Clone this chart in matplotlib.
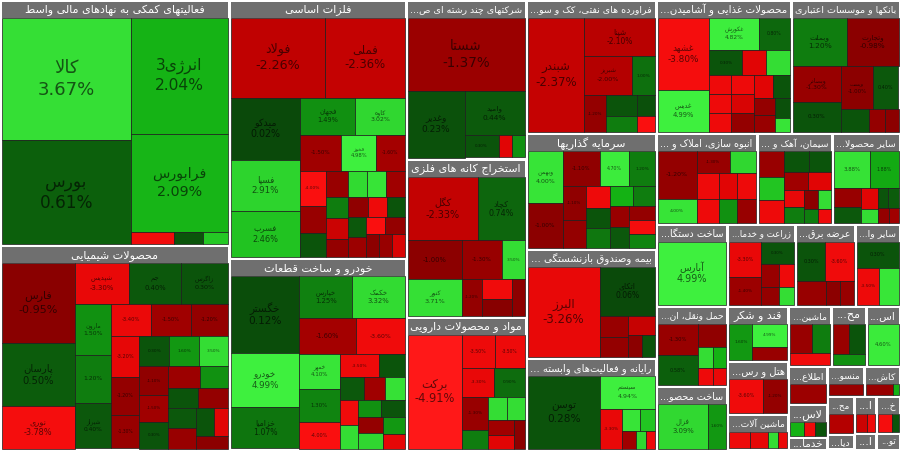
import matplotlib
matplotlib.use("Agg")
import matplotlib.pyplot as plt
from matplotlib.patches import Rectangle
from matplotlib import font_manager
from matplotlib.ft2font import FT2Font
import math

# ---------------- DATA ----------------
group_titles = [
    "فعالیتهای کمکی به نهادهای مالی واسط",
    "محصولات شیمیایی",
    "فلزات اساسی",
    "خودرو و ساخت قطعات",
    "...شرکتهای چند رشته ای ص",
    "استخراج کانه های فلزی",
    "مواد و محصولات دارویی",
    "...فراورده های نفتی، کک و سو",
    "سرمایه گذاریها",
    "... بیمه وصندوق بازنشستگی",
    "... رایانه و فعالیت\u200cهای وابسته",
    "...محصولات غذایی و آشامیدن",
    "بانکها و موسسات اعتباری",
    "... انبوه سازی، املاک و",
    "... سیمان، آهک و",
    "...سایر محصولا",
    "...ساخت دستگا",
    "...حمل ونقل، ان",
    "...ساخت محصو",
    "...زراعت و خدما",
    "...عرضه برق",
    "...سایر وا",
    "قند و شکر",
    "...هتل و رس",
    "...ماشین آلات",
    "...ماشین",
    "...مح",
    "...اس",
    "...اطلاع",
    "...لاس",
    "...خدما",
    "...منسو",
    "...کاش",
    "...مح",
    "...دیا",
    "...ا",
    "...خ",
    "...ا",
    "...تو",
]
group_sizes = [56342, 46933, 45625, 33800, 19080, 18960, 15960, 17355, 15015,
               14235, 11895, 18022, 14551, 9140, 6788, 6154, 5863, 5756, 4540,
               5535, 4920, 3690, 3386, 3203, 2196, 2571, 2118, 2057, 1463, 1251,
               500, 1092, 1062, 1017, 425, 833, 851, 380, 400]
# number of groups in each successive strip of the treemap, and its direction
group_strips = [2, 2, 3, 4, 2, 3, 3, 3, 3, 3, 3, 2, 2, 2, 1, 1]
group_strip_dirs = ['v', 'v', 'v', 'v', 'h', 'h', 'v', 'h', 'v', 'h', 'v', 'h',
                    'v', 'h', 'v', 'v']

stock_counts = [7, 30, 30, 23, 6, 10, 12, 9, 17, 7, 8, 19, 9, 10, 13, 10,
                1, 7, 2, 7, 5, 3, 3, 2, 4, 3, 3, 1, 1, 3, 1, 1, 2, 1, 1, 2, 2, 1, 1]

stock_names = (
    ['کالا', 'انرژی3', 'بورس', 'فرابورس', '', '', ''] +
    ['فارس', 'پارسان', 'نوری', 'شپدیس', 'جم', 'زاگرس', 'مارون', 'شیراز'] + [''] * 22 +
    ['فولاد', 'فملی', 'میدکو', 'فسرب', 'فجهان', 'کاوه', 'فسپا', 'فخوز'] + [''] * 22 +
    ['خگستر', 'خودرو', 'خپارس', 'خزامیا', 'خکمک', '', '', 'خمهر'] + [''] * 15 +
    ['شستا', 'وغدیر', 'وامید', '', '', ''] +
    ['کگل', 'کچاد', '', '', '', 'کنور', '', '', '', ''] +
    ['برکت'] + [''] * 11 +
    ['شبندر', 'شپنا', 'شبریز'] + [''] * 6 +
    ['وبهمن'] + [''] * 16 +
    ['البرز', 'اتکای', '', '', '', '', ''] +
    ['توسن', 'سیستم', '', '', '', '', '', ''] +
    ['غشهد', 'غدیس', 'غکورش'] + [''] * 16 +
    ['وبملت', 'وتجارت', 'وبصادر', '', 'وپست', '', '', '', ''] +
    [''] * 10 +
    [''] * 13 +
    [''] * 10 +
    ['آبارس'] +
    [''] * 7 +
    ['فزال', ''] +
    [''] * 7 +
    [''] * 5 +
    [''] * 3 +
    [''] * 3 +
    [''] * 2 +
    [''] * 4 +
    [''] * 3 +
    [''] * 3 +
    [''] +
    [''] +
    [''] * 3 +
    [''] + [''] + [''] * 2 + [''] + [''] + [''] * 2 + [''] * 2 + [''] + ['']
)

stock_sizes = [
    15500, 11070, 13100, 9256, 506, 350, 290,
    5830, 4660, 3100, 2170, 2120, 1900, 1800, 1630, 1200, 1250, 1150, 1700, 870, 960,
    900, 900, 1300, 1080, 750, 560, 560, 760, 810, 600, 700, 600, 600, 500, 400, 400,
    7450, 6320, 4250, 3130, 2030, 1800, 3550, 1260, 1460, 1000, 890, 600, 500, 500, 600,
    450, 500, 450, 400, 350, 350, 400, 380, 350, 330, 320, 300, 300, 280, 700,
    5265, 3640, 2275, 2830, 2210, 2050, 1750, 1450, 1110, 1350, 900, 600, 550, 450, 420,
    380, 400, 450, 500, 400, 400, 350, 320,
    8470, 3750, 2610, 760, 300, 280,
    4350, 2900, 2050, 1480, 840, 1910, 700, 600, 500, 430,
    6330, 1000, 960, 900, 870, 1100, 500, 450, 400, 400, 350, 310,
    6270, 2600, 1820, 860, 620, 470, 760, 360, 270,
    1840, 1550, 1300, 1050, 880, 640, 530, 480, 790, 500, 450, 420, 400, 380, 370, 360, 350,
    6370, 2650, 570, 500, 540, 310, 270,
    5180, 1800, 840, 390, 250, 320, 160, 150,
    3530, 2060, 1550, 960, 780, 400, 400, 400, 400, 400, 400, 550, 550, 340, 290, 200, 360, 340, 400,
    2660, 2520, 1750, 1480, 1360, 630, 1120, 360, 315,
    1700, 680, 860, 530, 430, 430, 530, 400, 400, 480,
    620, 500, 300, 530, 440, 240, 220, 530, 330, 180, 165, 370, 390,
    1250, 990, 470, 340, 400, 190, 210, 190, 120, 150,
    4340,
    1200, 620, 1130, 280, 260, 240, 220,
    2210, 780,
    1050, 700, 810, 310, 370, 250, 300,
    1020, 640, 990, 300, 300,
    980, 630, 735,
    800, 820, 430,
    1090, 760,
    340, 300, 170, 150,
    600, 480, 440,
    430, 300, 435,
    1320,
    650,
    160, 190, 150,
    100,
    300,
    300, 60,
    300,
    100,
    200, 150,
    200, 100,
    100,
    100,
]

stock_changes = [
    3.67, 2.04, 0.61, 2.09, -3.6, 0.3, 2.6,
    -0.95, 0.50, -3.78, -3.30, 0.40, 0.30, 1.50, 0.40, -1.2, -1.5, -3.2, 1.2, 3.5, -1.3,
    0.3, 1.6, -3.4, -1.2, 0.3, 0.4, -1.3, -1.5, -1.1, 1.5, -1.4, 0.3, -1.2, 0.3, -3.0, -1.0,
    -2.26, -2.36, 0.02, 2.46, 1.49, 3.02, 2.91, 4.98, -1.5, -1.6, -4.0, 0.3, 3.2, 4.0, -1.3,
    1.2, -1.5, -2.5, -1.2, 0.3, 0.4, -1.1, -3.5, -1.4, -4.0, -1.2, -1.0, -1.3, -2.8, -1.3,
    0.12, 4.99, 1.25, 1.07, 3.32, -1.6, -3.6, 4.10, -4.0, 1.3, -3.5, 0.3, 0.4, 3.8, 3.5,
    3.0, 1.5, -3.6, -1.5, 0.3, -1.2, 1.6, -3.2,
    -1.37, 0.23, 0.44, 0.3, -3.0, 1.5,
    -2.33, 0.74, -1.0, -1.3, 3.5, 3.71, -1.2, -3.6, -0.9, -1.0,
    -4.91, -3.5, -3.3, 0.9, -1.3, -3.5, 1.2, 3.5, 3.5, -1.5, -3.0, -1.0,
    -2.37, -2.10, -2.00, 1.0, 0.3, 1.2, -1.2, 0.2, -4.0,
    4.0, -1.0, -1.1, 4.7, 1.2, -1.2, -3.5, 1.1, -1.1, 0.3, 2.0, 1.2, -1.3, 0.4, -1.2, -3.8, 1.3,
    -3.26, 0.06, -1.3, -2.4, -1.2, -1.0, 0.3,
    0.28, 4.94, -3.3, 4.0, -1.5, 2.5, 3.0, -3.5,
    -3.8, 4.99, 4.82, 0.8, 0.3, -3.5, -3.5, -3.5, -3.5, -2.8, -1.2, -3.0, 3.5, -1.2, 0.2, 4.0, 0.3, -1.3, -3.0,
    1.20, -0.98, -1.30, 0.30, -1.0, 0.3, 0.4, -1.2, -1.0,
    -1.2, -1.3, 4.0, 3.0, -3.0, -3.5, -3.5, 1.5, -1.3, -3.5,
    -1.3, 0.3, 1.2, 2.5, 0.3, -1.0, 3.5, -3.5, -3.3, 1.2, -3.5, -3.0, -1.5,
    3.88, 1.88, -1.3, -3.0, 0.4, 0.3, 3.5, 0.5, -1.5, -1.2,
    4.99,
    -1.3, -1.1, 0.58, 3.5, 2.0, -3.5, -3.3,
    3.09, 1.6,
    -3.3, 0.3, -1.4, -3.5, -1.3, 3.5, -1.2,
    0.3, -1.3, -3.6, -1.0, -1.3,
    0.3, 4.2, -3.5,
    4.99, 1.6, -1.3,
    -3.6, -1.2,
    -3.5, -3.2, 3.5, -3.3,
    -1.3, 1.2, -3.6,
    0.3, 1.5, -1.3,
    4.6,
    -1.4,
    -3.5, 2.0, 0.3,
    -1.2,
    -1.3,
    -1.3, 2.0,
    -2.0,
    -1.3,
    -2.5, -3.5,
    -3.8, 0.3,
    -1.3,
    -1.3,
]

assert sum(group_strips) == len(group_sizes) == len(group_titles) == len(stock_counts)
assert len(group_strips) == len(group_strip_dirs)
assert sum(stock_counts) == len(stock_sizes) == len(stock_changes) == len(stock_names)

# ---------------- Persian shaping ----------------
FORMS = {
    '\u0627': (0xFE8D, 0xFE8E, None, None), '\u0622': (0xFE81, 0xFE82, None, None),
    '\u0623': (0xFE83, 0xFE84, None, None),
    '\u0628': (0xFE8F, 0xFE90, 0xFE91, 0xFE92), '\u067E': (0xFB56, 0xFB57, 0xFB58, 0xFB59),
    '\u062A': (0xFE95, 0xFE96, 0xFE97, 0xFE98), '\u062B': (0xFE99, 0xFE9A, 0xFE9B, 0xFE9C),
    '\u062C': (0xFE9D, 0xFE9E, 0xFE9F, 0xFEA0), '\u0686': (0xFB7A, 0xFB7B, 0xFB7C, 0xFB7D),
    '\u062D': (0xFEA1, 0xFEA2, 0xFEA3, 0xFEA4), '\u062E': (0xFEA5, 0xFEA6, 0xFEA7, 0xFEA8),
    '\u062F': (0xFEA9, 0xFEAA, None, None), '\u0630': (0xFEAB, 0xFEAC, None, None),
    '\u0631': (0xFEAD, 0xFEAE, None, None), '\u0632': (0xFEAF, 0xFEB0, None, None),
    '\u0698': (0xFB8A, 0xFB8B, None, None),
    '\u0633': (0xFEB1, 0xFEB2, 0xFEB3, 0xFEB4), '\u0634': (0xFEB5, 0xFEB6, 0xFEB7, 0xFEB8),
    '\u0635': (0xFEB9, 0xFEBA, 0xFEBB, 0xFEBC), '\u0636': (0xFEBD, 0xFEBE, 0xFEBF, 0xFEC0),
    '\u0637': (0xFEC1, 0xFEC2, 0xFEC3, 0xFEC4), '\u0638': (0xFEC5, 0xFEC6, 0xFEC7, 0xFEC8),
    '\u0639': (0xFEC9, 0xFECA, 0xFECB, 0xFECC), '\u063A': (0xFECD, 0xFECE, 0xFECF, 0xFED0),
    '\u0641': (0xFED1, 0xFED2, 0xFED3, 0xFED4), '\u0642': (0xFED5, 0xFED6, 0xFED7, 0xFED8),
    '\u06A9': (0xFB8E, 0xFB8F, 0xFB90, 0xFB91), '\u0643': (0xFED9, 0xFEDA, 0xFEDB, 0xFEDC),
    '\u06AF': (0xFB92, 0xFB93, 0xFB94, 0xFB95),
    '\u0644': (0xFEDD, 0xFEDE, 0xFEDF, 0xFEE0), '\u0645': (0xFEE1, 0xFEE2, 0xFEE3, 0xFEE4),
    '\u0646': (0xFEE5, 0xFEE6, 0xFEE7, 0xFEE8), '\u0647': (0xFEE9, 0xFEEA, 0xFEEB, 0xFEEC),
    '\u0648': (0xFEED, 0xFEEE, None, None),
    '\u06CC': (0xFBFC, 0xFBFD, 0xFBFE, 0xFBFF), '\u064A': (0xFEF1, 0xFEF2, 0xFEF3, 0xFEF4),
}
LAM_ALEF = {'\u0627': (0xFEFB, 0xFEFC), '\u0622': (0xFEF5, 0xFEF6), '\u0623': (0xFEF7, 0xFEF8)}
FALLBACK = {'\u067E': '\u0628', '\u0686': '\u062C', '\u0698': '\u0632',
            '\u06A9': '\u0643', '\u06AF': '\u0643'}
YEH_FALLBACK = (0xFEEF, 0xFEF0, 0xFEF3, 0xFEF4)

FONT = 'DejaVu Sans'
_path = font_manager.findfont(font_manager.FontProperties(family=FONT))
_cmap = set(FT2Font(_path).get_charmap().keys())


def form_code(c, idx):
    code = FORMS[c][idx]
    if code in _cmap:
        return code
    if c == '\u06CC':
        return YEH_FALLBACK[idx]
    if c in FALLBACK:
        return FORMS[FALLBACK[c]][idx]
    return ord(c)


def joins_next(c):
    return c in FORMS and FORMS[c][2] is not None


def shape_run(run):
    chars = list(run)
    n = len(chars)
    out = []
    i = 0
    while i < n:
        c = chars[i]
        prev_j = i > 0 and joins_next(chars[i - 1])
        if c == '\u0644' and i + 1 < n and chars[i + 1] in LAM_ALEF:
            iso, fin = LAM_ALEF[chars[i + 1]]
            out.append(chr(fin if prev_j else iso))
            i += 2
            continue
        if c in FORMS:
            can_next = joins_next(c) and i + 1 < n and chars[i + 1] in FORMS
            if prev_j and can_next:
                idx = 3
            elif prev_j:
                idx = 1
            elif can_next:
                idx = 2
            else:
                idx = 0
            out.append(chr(form_code(c, idx)))
        elif c != '\u200c':
            out.append(c)
        i += 1
    return ''.join(reversed(out))


def visual_word(w):
    runs = []
    cur, cur_ar = '', None
    for ch in w:
        ar = ('\u0600' <= ch <= '\u06FF') or ch == '\u200c'
        if cur_ar is None or ar == cur_ar:
            cur += ch
        else:
            runs.append((cur, cur_ar))
            cur = ch
        cur_ar = ar
    if cur:
        runs.append((cur, cur_ar))
    return ''.join(shape_run(r) if a else r for r, a in reversed(runs))


def visual(text):
    prefix = ''
    if text.startswith('... '):
        prefix, text = '... ', text[4:]
    elif text.startswith('...'):
        prefix, text = '...', text[3:]
    words = [visual_word(w) for w in text.split(' ') if w]
    return prefix + ' '.join(reversed(words))


# ---------------- colours ----------------
G_ANCH = [(0, (10, 72, 10)), (1, (14, 112, 14)), (2, (20, 178, 20)),
          (3, (48, 215, 48)), (5, (62, 240, 62))]
R_ANCH = [(0, (100, 0, 0)), (1, (140, 0, 0)), (2, (180, 0, 0)),
          (3, (225, 5, 5)), (4, (250, 15, 15)), (5, (255, 25, 25))]


def color_for(c):
    a = min(abs(c), 5.0)
    anch = G_ANCH if c >= 0 else R_ANCH
    for (v0, c0), (v1, c1) in zip(anch[:-1], anch[1:]):
        if a <= v1:
            t = (a - v0) / (v1 - v0)
            return tuple((c0[k] + t * (c1[k] - c0[k])) / 255 for k in range(3))
    return tuple(x / 255 for x in anch[-1][1])


# ---------------- layouts ----------------
def strip_layout(sizes, strips, dirs, x, y, dx, dy):
    scale = dx * dy / sum(sizes)
    vals = [s * scale for s in sizes]
    rects = []
    i = 0
    for n, d in zip(strips, dirs):
        row = vals[i:i + n]
        i += n
        s = sum(row)
        if d == 'v':
            w = s / dy
            yy = y
            for v in row:
                h = v / w
                rects.append((x, yy, w, h))
                yy += h
            x += w
            dx -= w
        else:
            h = s / dx
            xx = x
            for v in row:
                w = v / h
                rects.append((xx, y, w, h))
                xx += w
            y += h
            dy -= h
    return rects


def worst(row, dx, dy):
    s = sum(row)
    t = s / dy if dx >= dy else s / dx
    return max(max(t / (v / t), (v / t) / t) for v in row)


def squarify(sizes, x, y, dx, dy):
    scale = dx * dy / sum(sizes)
    vals = [s * scale for s in sizes]
    rects = []
    while vals:
        if len(vals) == 1:
            rects.append((x, y, dx, dy))
            break
        i = 1
        while i < len(vals) and worst(vals[:i], dx, dy) >= worst(vals[:i + 1], dx, dy):
            i += 1
        row, vals = vals[:i], vals[i:]
        s = sum(row)
        if dx >= dy:
            w = s / dy
            yy = y
            for v in row:
                h = v / w
                rects.append((x, yy, w, h))
                yy += h
            x += w
            dx -= w
        else:
            h = s / dx
            xx = x
            for v in row:
                w = v / h
                rects.append((xx, y, w, h))
                xx += w
            y += h
            dy -= h
    return rects


# ---------------- drawing ----------------
W, H = 900, 450
fig = plt.figure(figsize=(9, 4.5), dpi=100)
fig.patch.set_facecolor('white')
ax = fig.add_axes([0, 0, 1, 1])
ax.set_xlim(0, W)
ax.set_ylim(H, 0)
ax.axis('off')
renderer = fig.canvas.get_renderer()

PT = 100 / 72.0
HEADER = 16
TITLE_FS = 8
group_rects = strip_layout(group_sizes, group_strips, group_strip_dirs, 0, 0, W, H)

start = 0
for gi, (gx, gy, gw, gh) in enumerate(group_rects):
    n = stock_counts[gi]
    names = stock_names[start:start + n]
    sizes = stock_sizes[start:start + n]
    chg = stock_changes[start:start + n]
    start += n

    bx, by, bw, bh = gx + 1.5, gy + 1.5, gw - 3, gh - 3
    hh = min(HEADER, bh)
    cy0 = by + hh
    ch_ = bh - hh
    if ch_ > 1.5:
        order = sorted(range(n), key=lambda k: -sizes[k])
        rects = squarify([sizes[k] for k in order], bx, cy0, bw, ch_)
        for k, (rx, ry, rw, rh) in zip(order, rects):
            ax.add_patch(Rectangle((rx, ry), rw, rh, facecolor=color_for(chg[k]),
                                   edgecolor='#1c1c1c', linewidth=0.5))
            fs = min(13.0, 0.105 * math.sqrt(rw * rh), 0.17 * rw, 0.21 * rh)
            if fs < 2.8:
                continue
            cxm, cym = rx + rw / 2, ry + rh / 2
            pct = f"{chg[k]:.2f}%"
            if names[k]:
                off = 0.62 * fs * PT
                ax.text(cxm, cym - off, visual(names[k]), ha='center', va='center',
                        fontsize=fs, family=FONT, color='black', alpha=0.62)
                ax.text(cxm, cym + off, pct, ha='center', va='center',
                        fontsize=fs, family=FONT, color='black', alpha=0.62)
            else:
                ax.text(cxm, cym, pct, ha='center', va='center',
                        fontsize=fs, family=FONT, color='black', alpha=0.62)

    hdr = Rectangle((bx, by), bw, hh, facecolor='#6f6f6f', edgecolor='none')
    ax.add_patch(hdr)
    title = group_titles[gi]
    avail = bw - 5
    t = ax.text(bx + bw / 2, by + hh / 2 + 0.5, visual(title), ha='center',
                va='center', fontsize=TITLE_FS, family=FONT, color='white')
    tw = t.get_window_extent(renderer).width
    if tw > avail:
        t.set_fontsize(max(5.0, TITLE_FS * avail / tw))
    t.set_clip_path(hdr)

fig.savefig('out.png', dpi=100, facecolor='white')
